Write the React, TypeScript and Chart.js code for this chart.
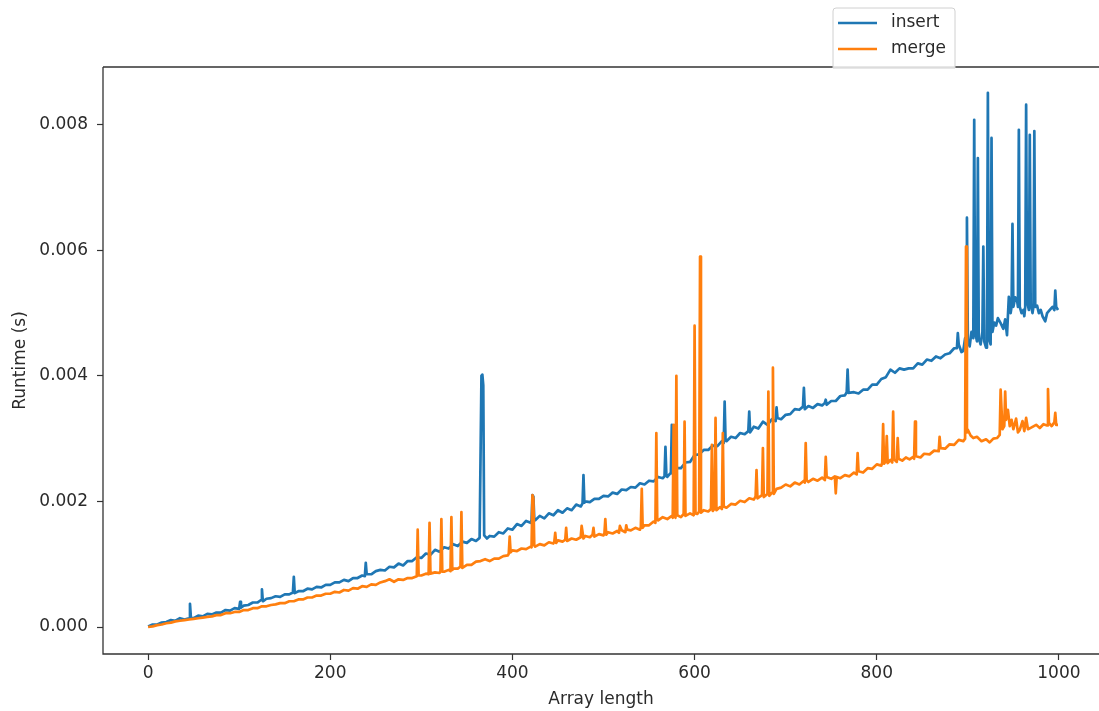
import React, { useEffect, useRef } from "react";
import { Chart, registerables } from "chart.js";

Chart.register(...registerables);

// Array length -> runtime in milliseconds
const insertPoints: [number, number][] = [
  [0,0.01],[5,0.04],[10,0.04],[15,0.07],[20,0.08],[25,0.11],[30,0.10],[35,0.14],[40,0.12],[45,0.14],[46,0.37],[47,0.15],
  [50,0.14],[55,0.18],[60,0.17],[65,0.21],[70,0.20],[75,0.23],[80,0.23],[85,0.27],[90,0.26],[95,0.30],[100,0.29],[101,0.40],
  [102,0.31],[105,0.34],[110,0.35],[115,0.39],[120,0.39],[124,0.43],[125,0.60],[126,0.41],[130,0.45],[135,0.46],[140,0.49],
  [145,0.48],[150,0.52],[155,0.52],[159,0.55],[160,0.80],[161,0.54],[165,0.57],[170,0.57],[175,0.61],[180,0.60],[185,0.64],
  [190,0.63],[195,0.67],[200,0.67],[205,0.71],[210,0.71],[215,0.75],[220,0.73],[225,0.78],[230,0.78],[235,0.82],[238,0.81],
  [239,1.02],[240,0.84],[245,0.84],[250,0.89],[255,0.91],[260,0.90],[265,0.96],[270,0.95],[275,1.01],[280,0.98],[285,1.05],
  [290,1.05],[295,1.11],[300,1.10],[305,1.17],[310,1.15],[315,1.23],[320,1.20],[325,1.27],[330,1.25],[335,1.32],[340,1.29],
  [345,1.36],[350,1.34],[355,1.40],[360,1.37],[364,1.42],[366,4.00],[367,4.02],[368,3.85],[369,1.46],[372,1.41],[375,1.45],
  [380,1.44],[385,1.51],[390,1.49],[395,1.57],[400,1.55],[405,1.64],[410,1.61],[415,1.69],[420,1.66],[421,1.70],[422,2.10],
  [423,2.08],[424,1.72],[425,1.70],[430,1.77],[435,1.73],[440,1.81],[445,1.78],[450,1.86],[455,1.82],[460,1.89],[465,1.86],
  [470,1.95],[475,1.92],[477,1.97],[478,2.42],[479,1.98],[480,2.00],[485,1.99],[490,2.04],[495,2.04],[500,2.09],[505,2.08],
  [510,2.14],[515,2.12],[520,2.19],[525,2.18],[530,2.23],[535,2.22],[540,2.29],[545,2.27],[550,2.33],[555,2.32],[560,2.39],
  [565,2.37],[567,2.40],[568,2.87],[569,2.42],[570,2.39],[574,2.46],[575,3.22],[576,2.44],[580,2.53],[585,2.53],[590,2.62],
  [595,2.63],[600,2.74],[605,2.75],[610,2.82],[615,2.82],[620,2.89],[625,2.88],[630,2.96],[632,2.93],[633,3.59],[634,2.97],
  [635,2.96],[640,3.03],[645,3.01],[650,3.09],[655,3.07],[659,3.12],[660,3.43],[661,3.10],[665,3.19],[670,3.16],[675,3.27],
  [680,3.22],[685,3.31],[689,3.28],[690,3.50],[691,3.33],[695,3.31],[700,3.38],[705,3.39],[710,3.47],[715,3.46],[719,3.51],
  [720,3.81],[721,3.47],[725,3.52],[730,3.49],[735,3.55],[740,3.53],[743,3.57],[744,3.62],[745,3.54],[750,3.60],[755,3.60],
  [760,3.68],[765,3.69],[767,3.74],[768,4.10],[769,3.73],[775,3.74],[780,3.72],[785,3.78],[790,3.78],[795,3.86],[800,3.86],
  [805,3.95],[810,3.98],[815,4.10],[820,4.05],[825,4.12],[830,4.10],[835,4.12],[840,4.12],[845,4.20],[850,4.18],[855,4.26],
  [860,4.24],[865,4.31],[870,4.28],[875,4.34],[880,4.36],[885,4.44],[888,4.44],[889,4.68],[890,4.50],[893,4.38],[895,4.40],
  [897,4.60],[898,4.50],[899,6.52],[900,4.55],[902,4.47],[904,4.70],[906,4.60],[907,8.08],[908,4.70],[910,4.55],[911,7.47],
  [912,4.60],[914,4.50],[916,4.70],[917,6.06],[918,4.55],[920,4.45],[921,4.60],[922,8.51],[923,4.60],[925,4.50],[926,7.79],
  [927,4.70],[929,4.85],[931,4.80],[933,4.92],[936,4.84],[939,4.75],[941,4.90],[943,4.65],[945,5.26],[947,5.00],[948,5.10],
  [949,6.42],[950,5.10],[952,5.25],[954,5.21],[955,5.10],[956,7.92],[957,5.10],[959,5.00],[961,5.05],[962,4.95],[963,5.10],
  [964,8.32],[965,5.20],[967,5.05],[968,7.84],[969,5.15],[971,5.00],[972,5.10],[973,7.90],[974,5.10],[976,5.12],[978,5.00],
  [980,5.05],[982,4.95],[985,4.87],[987,5.00],[990,5.05],[993,5.10],[995,5.05],[996,5.36],[997,5.10],[999,5.05],
];

const mergePoints: [number, number][] = [
  [0,0.00],[5,0.01],[10,0.03],[15,0.04],[20,0.06],[25,0.07],[30,0.09],[35,0.10],[40,0.11],[45,0.12],[50,0.13],[55,0.14],
  [60,0.15],[65,0.16],[70,0.17],[75,0.19],[80,0.19],[85,0.22],[90,0.22],[95,0.24],[100,0.24],[105,0.27],[110,0.27],[115,0.30],
  [120,0.30],[125,0.33],[130,0.33],[135,0.35],[140,0.36],[145,0.38],[150,0.38],[155,0.41],[160,0.41],[165,0.44],[170,0.44],
  [175,0.47],[180,0.47],[185,0.50],[190,0.50],[195,0.53],[200,0.53],[205,0.56],[210,0.55],[215,0.59],[220,0.58],[225,0.62],
  [230,0.61],[235,0.65],[240,0.64],[245,0.68],[250,0.67],[255,0.71],[260,0.73],[265,0.76],[270,0.72],[275,0.76],[280,0.75],
  [285,0.78],[290,0.78],[295,0.81],[296,1.55],[297,0.82],[300,0.82],[305,0.85],[308,0.84],[309,1.66],[310,0.85],[315,0.87],
  [320,0.86],[321,0.89],[322,1.72],[323,0.88],[325,0.88],[330,0.91],[332,0.89],[333,1.75],[334,0.91],[335,0.93],[340,0.93],
  [343,0.96],[344,1.83],[345,0.94],[350,0.99],[355,0.99],[360,1.04],[365,1.05],[370,1.08],[375,1.05],[380,1.09],[385,1.09],
  [390,1.13],[395,1.14],[396,1.17],[397,1.44],[398,1.19],[400,1.22],[405,1.21],[410,1.25],[415,1.24],[420,1.28],[421,1.27],
  [422,2.10],[423,2.05],[424,1.30],[425,1.28],[430,1.32],[435,1.30],[440,1.35],[445,1.33],[446,1.36],[447,1.50],[448,1.34],
  [450,1.38],[455,1.36],[458,1.39],[459,1.58],[460,1.37],[465,1.41],[470,1.39],[475,1.43],[476,1.61],[478,1.41],[480,1.45],
  [485,1.43],[488,1.47],[489,1.58],[490,1.44],[495,1.48],[500,1.46],[501,1.49],[502,1.72],[503,1.47],[505,1.51],[510,1.49],
  [515,1.53],[517,1.50],[518,1.61],[520,1.54],[524,1.51],[525,1.62],[526,1.55],[530,1.54],[535,1.58],[540,1.55],[541,1.59],
  [542,2.20],[543,1.58],[545,1.62],[550,1.62],[555,1.68],[557,1.66],[558,3.09],[559,1.71],[560,1.70],[565,1.75],[570,1.72],
  [575,1.77],[576,1.74],[577,3.22],[578,1.77],[579,1.74],[580,4.00],[581,1.78],[585,1.75],[588,1.80],[589,3.27],[590,1.77],
  [595,1.81],[599,1.78],[600,4.80],[601,1.81],[603,1.80],[605,1.84],[606,5.90],[607,1.82],[610,1.86],[615,1.84],[618,1.88],
  [619,2.90],[620,1.85],[622,1.89],[623,3.33],[624,1.86],[628,1.91],[630,1.88],[631,3.09],[632,1.92],[635,1.90],[640,1.96],
  [645,1.95],[650,2.01],[655,1.99],[660,2.05],[665,2.03],[667,2.08],[668,2.50],[669,2.05],[674,2.10],[675,2.85],[676,2.07],
  [680,2.12],[681,3.75],[682,2.09],[685,2.14],[686,4.13],[687,2.12],[690,2.20],[695,2.22],[700,2.27],[705,2.24],[710,2.30],
  [715,2.27],[720,2.33],[721,2.30],[722,2.93],[723,2.34],[725,2.31],[730,2.36],[735,2.33],[740,2.38],[743,2.34],[744,2.71],
  [745,2.39],[750,2.36],[754,2.40],[755,2.13],[756,2.39],[760,2.37],[765,2.42],[770,2.40],[775,2.46],[778,2.43],[779,2.77],
  [780,2.48],[785,2.46],[790,2.53],[795,2.52],[800,2.59],[805,2.57],[806,2.62],[807,3.23],[808,2.60],[810,2.64],[811,3.04],
  [812,2.61],[815,2.66],[817,2.62],[818,3.43],[819,2.67],[822,2.63],[823,3.01],[824,2.68],[828,2.65],[832,2.70],[836,2.67],
  [840,2.71],[841,2.68],[842,3.27],[843,2.72],[848,2.70],[852,2.76],[858,2.75],[863,2.81],[868,2.80],[869,3.03],[870,2.85],
  [875,2.84],[880,2.91],[885,2.90],[890,2.98],[895,2.96],[897,3.00],[898,6.06],[899,3.10],[900,3.14],[903,3.05],[906,3.01],
  [910,3.03],[915,2.96],[920,2.99],[924,2.94],[928,3.00],[932,3.01],[935,3.06],[936,3.78],[938,3.15],[940,3.20],[941,3.75],
  [942,3.30],[944,3.46],[946,3.20],[948,3.30],[950,3.15],[953,3.32],[955,3.10],[957,3.14],[960,3.28],[962,3.12],[964,3.33],
  [966,3.15],[970,3.18],[975,3.22],[979,3.17],[983,3.23],[987,3.21],[988,3.79],[989,3.25],[992,3.20],[995,3.26],[996,3.41],
  [997,3.22],[999,3.22],
];

const xTicks = [0, 200, 400, 600, 800, 1000];
const yTicks = [0, 0.002, 0.004, 0.006, 0.008];
const seriesNames = ["insert", "merge"];
const seriesColors = ["#1f77b4", "#ff7f0e"];
const xTitle = "Array length";
const yTitle = "Runtime (s)";

const FONT = "'DejaVu Sans', sans-serif";
const TEXT = "#2a2a2a";
const SPINE = "#333333";

const framePlugin = {
  id: "frame",
  afterDraw(chart: any) {
    const { ctx, chartArea } = chart;
    const { left, right, top, bottom } = chartArea;
    ctx.save();
    ctx.strokeStyle = SPINE;
    ctx.lineWidth = 1.3;
    ctx.beginPath();
    ctx.moveTo(left, top);
    ctx.lineTo(right, top);
    ctx.moveTo(left, top);
    ctx.lineTo(left, bottom);
    ctx.lineTo(right, bottom);
    ctx.stroke();

    // axis titles
    ctx.fillStyle = TEXT;
    ctx.font = `17px ${FONT}`;
    ctx.textAlign = "center";
    ctx.textBaseline = "middle";
    ctx.fillText(xTitle, (left + right) / 2, bottom + 46);
    ctx.save();
    ctx.translate(21, (top + bottom) / 2);
    ctx.rotate(-Math.PI / 2);
    ctx.fillText(yTitle, 0, 0);
    ctx.restore();

    // legend
    const bx = 833, bw = 122, by = top - 59, bh = 60;
    ctx.fillStyle = "rgba(255,255,255,0.85)";
    ctx.strokeStyle = "#d0d0d0";
    ctx.lineWidth = 1;
    ctx.beginPath();
    const r = 3;
    ctx.moveTo(bx + r, by);
    ctx.lineTo(bx + bw - r, by);
    ctx.arcTo(bx + bw, by, bx + bw, by + r, r);
    ctx.lineTo(bx + bw, by + bh);
    ctx.lineTo(bx, by + bh);
    ctx.lineTo(bx, by + r);
    ctx.arcTo(bx, by, bx + r, by, r);
    ctx.closePath();
    ctx.fill();
    ctx.stroke();
    seriesNames.forEach((name, i) => {
      const y = by + 15 + i * 26;
      ctx.strokeStyle = seriesColors[i];
      ctx.lineWidth = 2.6;
      ctx.beginPath();
      ctx.moveTo(bx + 5, y);
      ctx.lineTo(bx + 44, y);
      ctx.stroke();
      ctx.fillStyle = TEXT;
      ctx.textAlign = "left";
      ctx.textBaseline = "middle";
      ctx.font = `17px ${FONT}`;
      ctx.fillText(name, bx + 58, y);
    });
    ctx.restore();
  },
};

export default function App() {
  const ref = useRef<HTMLCanvasElement | null>(null);
  useEffect(() => {
    if (!ref.current) return;
    const toData = (pts: [number, number][]) => pts.map(([x, ms]) => ({ x, y: ms / 1000 }));
    const chart = new Chart(ref.current, {
      type: "line",
      data: {
        datasets: [
          {
            label: seriesNames[0],
            data: toData(insertPoints),
            borderColor: seriesColors[0],
            borderWidth: 2.7,
            borderJoinStyle: "round",
            pointRadius: 0,
            tension: 0,
            order: 1,
          },
          {
            label: seriesNames[1],
            data: toData(mergePoints),
            borderColor: seriesColors[1],
            borderWidth: 2.7,
            borderJoinStyle: "round",
            pointRadius: 0,
            tension: 0,
            order: 0,
          },
        ],
      },
      options: {
        animation: false,
        responsive: false,
        devicePixelRatio: 1,
        layout: { padding: { top: 67, right: 0, left: 0, bottom: 0 } },
        plugins: { legend: { display: false }, tooltip: { enabled: false } },
        scales: {
          x: {
            type: "linear",
            min: -49.5,
            max: 1044,
            afterBuildTicks: (s: any) => {
              s.ticks = xTicks.map((v) => ({ value: v }));
            },
            afterFit: (s: any) => {
              s.height = 57;
            },
            grid: { drawOnChartArea: false, drawTicks: true, tickLength: 6, tickColor: SPINE, tickWidth: 1.2 },
            border: { display: false },
            ticks: {
              font: { family: FONT, size: 17 },
              color: TEXT,
              padding: 3,
              maxRotation: 0,
              autoSkip: false,
              callback: (v: any) => String(v),
            },
          },
          y: {
            type: "linear",
            min: -0.00043,
            max: 0.00892,
            afterBuildTicks: (s: any) => {
              s.ticks = yTicks.map((v) => ({ value: v }));
            },
            afterFit: (s: any) => {
              s.width = 103;
            },
            grid: { drawOnChartArea: false, drawTicks: true, tickLength: 6, tickColor: SPINE, tickWidth: 1.2 },
            border: { display: false },
            ticks: {
              font: { family: FONT, size: 17 },
              color: TEXT,
              padding: 9,
              autoSkip: false,
              callback: (v: any) => Number(v).toFixed(3),
            },
          },
        },
      },
      plugins: [framePlugin],
    });
    return () => chart.destroy();
  }, []);
  return (
    <canvas
      ref={ref}
      width={1099}
      height={711}
      style={{ position: "fixed", left: 0, top: 0, width: 1099, height: 711, background: "#fff" }}
    />
  );
}
